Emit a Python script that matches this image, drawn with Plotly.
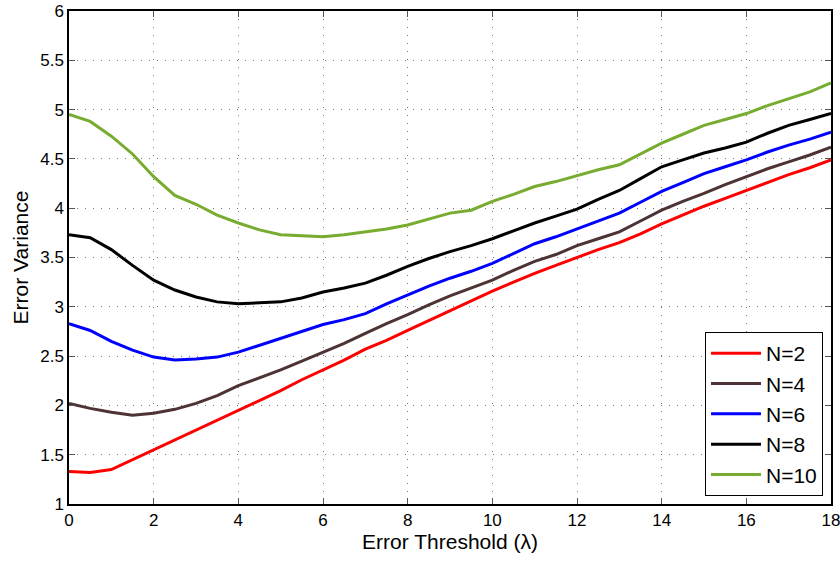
import plotly.graph_objects as go

x_vals = [i * 0.5 for i in range(37)]

n2 = [1.33, 1.32, 1.35, 1.45, 1.55, 1.65, 1.75, 1.85, 1.95, 2.05, 2.15, 2.26, 2.36, 2.46, 2.57, 2.66,
      2.76, 2.86, 2.96, 3.06, 3.16, 3.25, 3.34, 3.42, 3.50, 3.58, 3.65, 3.74, 3.84, 3.93, 4.02, 4.10,
      4.18, 4.26, 4.34, 4.41, 4.49]
n4 = [2.02, 1.97, 1.93, 1.90, 1.92, 1.96, 2.02, 2.10, 2.20, 2.28, 2.36, 2.45, 2.54, 2.63, 2.73, 2.83,
      2.92, 3.02, 3.11, 3.19, 3.27, 3.37, 3.46, 3.53, 3.62, 3.69, 3.76, 3.87, 3.98, 4.07, 4.15, 4.24,
      4.32, 4.40, 4.47, 4.54, 4.62]
n6 = [2.83, 2.76, 2.65, 2.56, 2.49, 2.46, 2.47, 2.49, 2.54, 2.61, 2.68, 2.75, 2.82, 2.87, 2.93, 3.03,
      3.12, 3.21, 3.29, 3.36, 3.44, 3.54, 3.64, 3.71, 3.79, 3.87, 3.95, 4.06, 4.17, 4.26, 4.35, 4.42,
      4.49, 4.57, 4.64, 4.70, 4.77]
n8 = [3.73, 3.70, 3.58, 3.42, 3.27, 3.17, 3.10, 3.05, 3.03, 3.04, 3.05, 3.09, 3.15, 3.19, 3.24, 3.32,
      3.41, 3.49, 3.56, 3.62, 3.69, 3.77, 3.85, 3.92, 3.99, 4.09, 4.18, 4.30, 4.42, 4.49, 4.56, 4.61,
      4.67, 4.76, 4.84, 4.90, 4.96]
n10 = [4.95, 4.88, 4.73, 4.55, 4.32, 4.13, 4.04, 3.93, 3.85, 3.78, 3.73, 3.72, 3.71, 3.73, 3.76, 3.79,
       3.83, 3.89, 3.95, 3.98, 4.07, 4.14, 4.22, 4.27, 4.33, 4.39, 4.44, 4.55, 4.66, 4.75, 4.84, 4.90,
       4.96, 5.04, 5.11, 5.18, 5.27]

series = [("N=2", n2, "#ff0000"), ("N=4", n4, "#4d3333"), ("N=6", n6, "#0000ff"),
          ("N=8", n8, "#000000"), ("N=10", n10, "#77ac30")]

x_ticks = list(range(0, 19, 2))
y_ticks = [1, 1.5, 2, 2.5, 3, 3.5, 4, 4.5, 5, 5.5, 6]

fig = go.Figure()
for name, ys, col in series:
    fig.add_trace(go.Scatter(x=x_vals, y=ys, mode="lines", name=name,
                             line=dict(color=col, width=3)))

axis_common = dict(showline=True, linecolor="black", linewidth=1.5, mirror="ticks",
                   ticks="inside", ticklen=6, tickcolor="#555", showgrid=True,
                   gridcolor="#777", griddash="1px,7px", gridwidth=1, zeroline=False,
                   automargin=False, ticklabeloverflow="allow",
                   tickfont=dict(family="Liberation Sans, Arial", size=17, color="black"))

fig.update_layout(
    width=840, height=561,
    margin=dict(l=69, r=9, t=11, b=57),
    plot_bgcolor="white", paper_bgcolor="white",
    font=dict(family="Liberation Sans, Arial", color="black"),
    xaxis=dict(range=[0, 18], tickvals=x_ticks, ticktext=[str(v) for v in x_ticks],
               title=dict(text="Error Threshold (λ)", font=dict(size=21), standoff=4),
               **axis_common),
    yaxis=dict(range=[1, 6], tickvals=y_ticks, ticktext=[f"{v:g}" for v in y_ticks],
               title=dict(text="Error Variance", font=dict(size=21), standoff=6),
               **axis_common),
    legend=dict(x=0.9895, y=0.016, xanchor="right", yanchor="bottom",
                bordercolor="black", borderwidth=1, bgcolor="white",
                font=dict(size=21, family="Liberation Sans, Arial"),
                itemwidth=50, tracegroupgap=0),
    showlegend=True,
)

fig.write_html("out.html")
